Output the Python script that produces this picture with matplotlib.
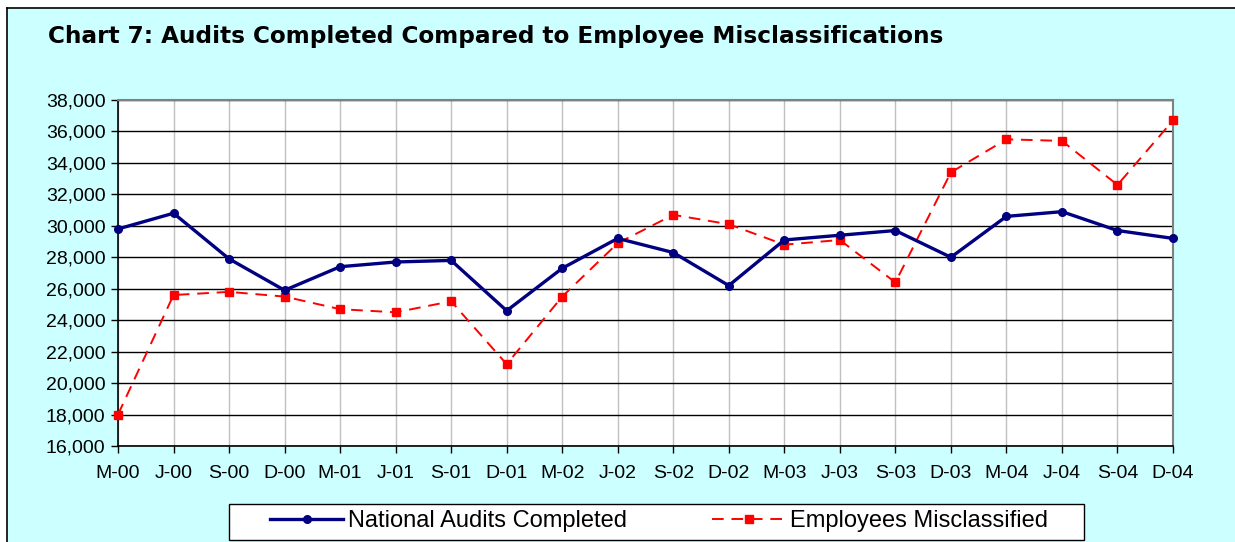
import matplotlib.pyplot as plt
import numpy as np
from matplotlib.patches import Rectangle
from matplotlib.lines import Line2D

# quarters, Mar-00 to Dec-04
quarters = ['M-00', 'J-00', 'S-00', 'D-00', 'M-01', 'J-01', 'S-01', 'D-01',
            'M-02', 'J-02', 'S-02', 'D-02', 'M-03', 'J-03', 'S-03', 'D-03',
            'M-04', 'J-04', 'S-04', 'D-04']

audits = [29800, 30800, 27900, 25900, 27400, 27700, 27800, 24600,
          27300, 29200, 28300, 26200, 29100, 29400, 29700, 28000,
          30600, 30900, 29700, 29200]

misclassified = [18000, 25600, 25800, 25500, 24700, 24500, 25200, 21200,
                 25500, 28900, 30700, 30100, 28800, 29100, 26400, 33400,
                 35500, 35400, 32600, 36700]

yticks = np.arange(16000, 38001, 2000)

plt.rcParams['font.family'] = ['Liberation Sans', 'DejaVu Sans']

W, H = 1235, 542
fig = plt.figure(figsize=(W / 100, H / 100), dpi=100)
fig.patch.set_facecolor('white')

# cyan chart area, black frame only on left and top
fig.add_artist(Rectangle((7 / W, 0), 1, 1 - 8 / H, transform=fig.transFigure,
                         facecolor='#CCFFFF', edgecolor='none', zorder=0))
fig.add_artist(Line2D([7 / W, 7 / W], [0, 1 - 8 / H], transform=fig.transFigure,
                      color='black', linewidth=1.2))
fig.add_artist(Line2D([7 / W, 1], [1 - 8 / H, 1 - 8 / H], transform=fig.transFigure,
                      color='black', linewidth=1.2))

ax = fig.add_axes([118 / W, 1 - 446 / H, (1173 - 118) / W, (446 - 100) / H])
ax.set_facecolor('white')

x = np.arange(len(quarters))
ax.plot(x, audits, color='#000080', linewidth=2.4, marker='o', markersize=5.5,
        label='National Audits Completed', zorder=4, clip_on=False)
ax.plot(x, misclassified, color='#FF0000', linewidth=1.4, dashes=(6, 4),
        marker='s', markersize=5.5, label='Employees Misclassified', zorder=3,
        clip_on=False)

ax.set_xlim(0, len(quarters) - 1)
ax.set_ylim(16000, 38000)
ax.set_yticks(yticks)
ax.set_yticklabels([f'{v:,}' for v in yticks], fontsize=14)
ax.set_xticks(x)
ax.set_xticklabels(quarters, fontsize=14)

ax.yaxis.grid(True, color='black', linewidth=1)
ax.xaxis.grid(True, color='#C0C0C0', linewidth=1)
ax.set_axisbelow(True)

ax.tick_params(axis='both', direction='out', length=5, width=1, color='black', pad=4)
ax.tick_params(axis='x', pad=9)
for s in ['left', 'bottom']:
    ax.spines[s].set_color('black')
    ax.spines[s].set_linewidth(1.2)
for s in ['top', 'right']:
    ax.spines[s].set_color('#808080')
    ax.spines[s].set_linewidth(1.5)

fig.text(48 / W, 1 - 37 / H,
         'Chart 7: Audits Completed Compared to Employee Misclassifications',
         fontsize=16.7, fontweight='bold', family='DejaVu Sans',
         va='center', ha='left')

# legend box drawn by hand, legend entries inside it
fig.add_artist(Rectangle((229 / W, 1 - 540 / H), (1084 - 229) / W, 36 / H,
                         transform=fig.transFigure, facecolor='white',
                         edgecolor='black', linewidth=1, zorder=1))
leg = fig.legend(loc='center', bbox_to_anchor=(659 / W, 1 - 521 / H), ncol=2,
                 fontsize=17, frameon=False, handlelength=3.1,
                 columnspacing=3.6, handletextpad=0.2)
leg.set_zorder(2)

plt.savefig('out.png', dpi=100, facecolor=fig.get_facecolor())
plt.close('all')
